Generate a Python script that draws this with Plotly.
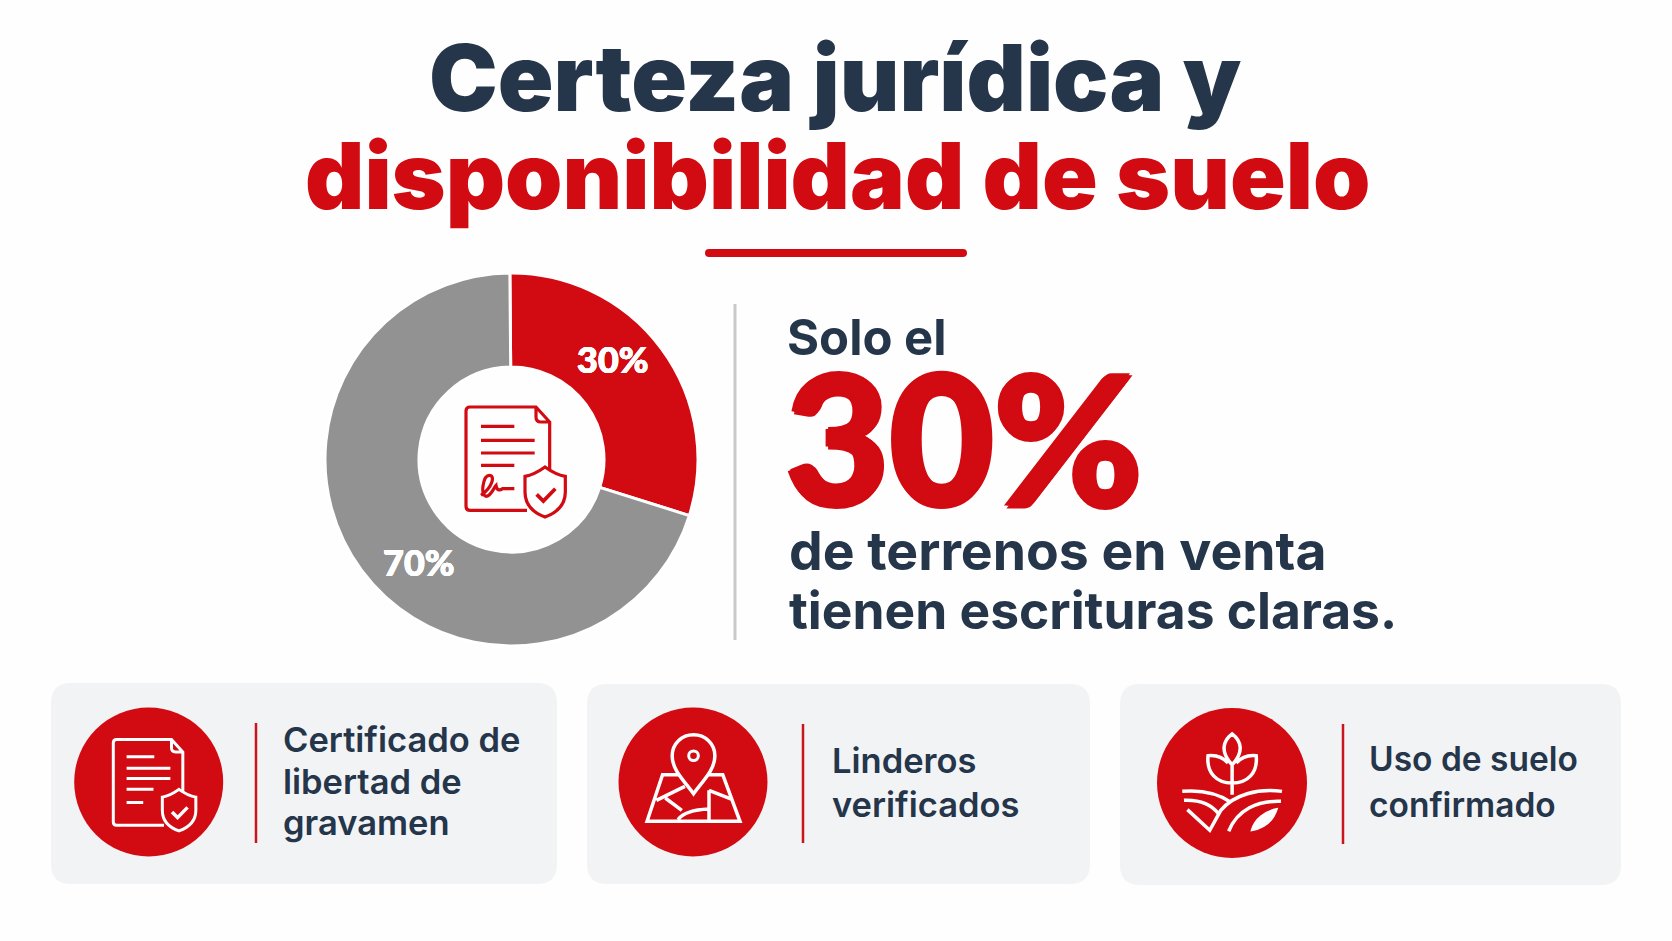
import re
import plotly.graph_objects as go

# datos
slice_labels = ['Con escrituras claras', 'Sin escrituras claras']
slice_values = [30, 70]
slice_colors = ['#d20a11', '#929292']

title_top = 'Certeza jurídica y'
title_bottom = 'disponibilidad de suelo'
solo_text = 'Solo el'
big_number = f'{slice_values[0]}%'
sub_lines = ['de terrenos en venta', 'tienen escrituras claras.']
card_texts = [
    ['Certificado de', 'libertad de', 'gravamen'],
    ['Linderos', 'verificados'],
    ['Uso de suelo', 'confirmado'],
]
card_sizes = [34.5, 34.5, 33.5]

RED = '#d20a11'
NAVY = '#25354a'
FONT = 'Inter'
W, H = 1672, 941

# geometria de las tarjetas: x0, x1, y0, y1, centro circulo, radio, divisor, texto x, texto y
cards = [
    (51, 557, 683, 884, 148.7, 782, 74.5, 256, 281, [739, 781, 822]),
    (587, 1090, 684, 884, 693, 782, 74.5, 803, 830, [760, 804]),
    (1120, 1621, 684, 885, 1232, 783, 75, 1343, 1367, [759, 805]),
]

# iconos en unidades locales (solo comandos absolutos M L C Q Z)
DOC_BODY = ('M183 310 L12 310 Q0 310 0 298 L0 12 Q0 0 12 0 L210 0 L251 45 L251 190 '
            'M210 0 L210 30 Q210 45 225 45 L251 45')
DOC_LINES_A = 'M45 58 L145 58 M45 100 L206 100 M45 138 L206 138 M45 175 L145 175'
DOC_SIGN = ('M45 265 C80 240 88 205 70 205 C52 205 42 262 60 268 C75 268 85 240 90 235 '
            'C92 250 100 252 110 245 L145 245')
DOC_LINES_B = 'M48 62 L148 62 M48 104 L206 104 M48 141 L206 141 M48 180 L145 180 M48 227 L108 227'
SHIELD = ('M237 180 C262 198 280 205 298 208 L298 255 C298 295 270 318 237 330 '
          'C204 318 177 295 177 255 L177 208 C195 205 212 198 237 180 Z')
CHECK = 'M212 262 L232 282 L268 245'

MAP_PIN = ('M330 372 C300 330 268 300 268 258 C268 222 296 195 330 195 '
           'C364 195 392 222 392 258 C392 300 360 330 330 372 Z')
MAP_DOT = 'M344 258 C344 277 316 277 316 258 C316 239 344 239 344 258 Z'
MAP_BODY = ('M295 315 L240 315 L195 455 L465 455 L415 315 L365 315 '
            'M222 392 L305 350 M248 385 L296 422 M375 362 L375 450 M375 362 L440 388 '
            'M285 450 C300 428 330 420 375 418')

PLANT = ('M355 192 C330 212 318 245 355 285 C392 245 380 212 355 192 Z '
         'M355 285 L355 375 '
         'M355 340 C310 340 280 310 285 258 C310 255 330 265 343 280 '
         'M355 340 C400 340 430 310 425 258 C400 255 380 265 367 280')
FIELDS = ('M210 365 C265 360 315 372 352 398 '
          'M500 365 C430 355 360 375 322 422 L290 482 L225 420 '
          'M215 392 C260 390 295 405 315 432 '
          'M497 395 C430 392 370 420 345 485')
LEAF = 'M485 418 C450 425 420 450 412 482 C450 475 475 450 485 418 Z'


# pasa un path local a coordenadas de la figura
def place(path, ox, oy, sx, sy=None):
    sy = sy if sy else sx
    count = [0]

    def conv(m):
        v = float(m.group(0))
        count[0] += 1
        if count[0] % 2 == 1:
            return f'{ox + v * sx:.2f}'
        return f'{oy + v * sy:.2f}'

    return re.sub(r'-?\d+\.?\d*', conv, path)


def stroke(path, color, width, fill=None):
    return dict(type='path', xref='x', yref='y', path=path,
                line=dict(color=color, width=width),
                fillcolor=fill if fill else 'rgba(0,0,0,0)')


def rounded(x0, y0, x1, y1, r):
    return (f'M{x0 + r} {y0} L{x1 - r} {y0} Q{x1} {y0} {x1} {y0 + r} L{x1} {y1 - r} '
            f'Q{x1} {y1} {x1 - r} {y1} L{x0 + r} {y1} Q{x0} {y1} {x0} {y1 - r} '
            f'L{x0} {y0 + r} Q{x0} {y0} {x0 + r} {y0} Z')


def doc_icon(ox, oy, s, color, shield_fill, width, signature):
    out = [stroke(place(DOC_BODY, ox, oy, s), color, width)]
    if signature:
        out.append(stroke(place(DOC_LINES_A, ox, oy, s), color, width))
        out.append(stroke(place(DOC_SIGN, ox, oy, s), color, width))
    else:
        out.append(stroke(place(DOC_LINES_B, ox, oy, s), color, width))
    out.append(stroke(place(SHIELD, ox, oy, s), color, width, shield_fill))
    out.append(stroke(place(CHECK, ox, oy, s), color, width + 0.5))
    return out


# engrosa el texto con una sombra del mismo color
def thicken(color, px):
    return f'{px}px 0 0 {color}, -{px}px 0 0 {color}, 0 {px}px 0 {color}, 0 -{px}px 0 {color}'


shapes = []

# subrayado y divisor central
shapes.append(dict(type='path', xref='x', yref='y', path=rounded(705, 249, 967, 257, 4),
                   fillcolor=RED, line=dict(width=0)))
shapes.append(dict(type='line', xref='x', yref='y', x0=735, x1=735, y0=304, y1=640,
                   line=dict(color='#c9c9c9', width=3)))

# icono central del anillo
shapes += doc_icon(466, 407, 1 / 3, RED, '#ffffff', 3.2, True)

annotations = []


def add_text(text, x, y, size, color, weight=700, anchor='left', family=FONT, shadow=None):
    font = dict(family=family, size=size, color=color, weight=weight)
    if shadow:
        font['shadow'] = shadow
    annotations.append(dict(text=text, x=x, y=y, xref='x', yref='y', showarrow=False,
                            xanchor=anchor, yanchor='middle', font=font))


# tarjetas
for i, c in enumerate(cards):
    x0, x1, y0, y1, cx, cy, r, div_x, tx, tys = c
    shapes.append(dict(type='path', xref='x', yref='y', path=rounded(x0, y0, x1, y1, 20),
                       fillcolor='#f1f3f5', line=dict(width=0)))
    shapes.append(dict(type='circle', xref='x', yref='y', x0=cx - r, x1=cx + r,
                       y0=cy - r, y1=cy + r, fillcolor=RED, line=dict(width=0)))
    shapes.append(dict(type='line', xref='x', yref='y', x0=div_x, x1=div_x,
                       y0=y0 + 40, y1=y1 - 41, line=dict(color='#c9151d', width=2.5)))
    for line, ty in zip(card_texts[i], tys):
        add_text(line, tx, ty, card_sizes[i], NAVY, 600)

shapes += doc_icon(113.3, 739.5, 0.277, '#ffffff', RED, 3, False)
sx3, sy3 = 0.344, 0.3325
shapes.append(stroke(place(MAP_BODY, 580, 670, sx3, sy3), '#ffffff', 3.5))
shapes.append(stroke(place(MAP_PIN, 580, 670, sx3, sy3), '#ffffff', 3.5, RED))
shapes.append(stroke(place(MAP_DOT, 580, 670, sx3, sy3), '#ffffff', 3))
shapes.append(stroke(place(PLANT, 1110, 670, sx3, sy3), '#ffffff', 3.5))
shapes.append(stroke(place(FIELDS, 1110, 670, sx3, sy3), '#ffffff', 3.5))
shapes.append(stroke(place(LEAF, 1110, 670, sx3, sy3), '#ffffff', 2, '#ffffff'))

# textos principales
add_text(title_top, 835, 77, 92, NAVY, 900, 'center')
add_text(title_bottom, 837, 175, 92, RED, 900, 'center')
add_text(solo_text, 785, 337, 49, NAVY, 700)
add_text(big_number, 783, 435, 180, RED, 900, family='Lato', shadow=thicken(RED, 2.5))
add_text(sub_lines[0], 787, 550, 53.5, NAVY, 700)
add_text(sub_lines[1], 787, 610, 51.5, NAVY, 700)
add_text(f'{slice_values[0]}%', 613, 359, 36, '#ffffff', 900, 'center', 'Lato', thicken('#ffffff', 0.4))
add_text(f'{slice_values[1]}%', 419, 562, 36, '#ffffff', 900, 'center', 'Lato', thicken('#ffffff', 0.4))

cx_d, cy_d, r_d = 511.5, 459.5, 186.5
fig = go.Figure(go.Pie(
    labels=slice_labels,
    values=slice_values,
    hole=0.496,
    sort=False,
    direction='clockwise',
    rotation=-0.5,
    marker=dict(colors=slice_colors, line=dict(color='#ffffff', width=3)),
    textinfo='none',
    showlegend=False,
    domain=dict(x=[(cx_d - r_d) / W, (cx_d + r_d) / W],
                y=[1 - (cy_d + r_d) / H, 1 - (cy_d - r_d) / H]),
))

fig.update_layout(
    width=W,
    height=H,
    margin=dict(l=0, r=0, t=0, b=0),
    paper_bgcolor='#fefefe',
    plot_bgcolor='rgba(0,0,0,0)',
    xaxis=dict(range=[0, W], visible=False, fixedrange=True),
    yaxis=dict(range=[H, 0], visible=False, fixedrange=True),
    shapes=shapes,
    annotations=annotations,
)

fig.write_html("out.html", config={'displayModeBar': False},
               post_script="document.body.style.margin='0';")
